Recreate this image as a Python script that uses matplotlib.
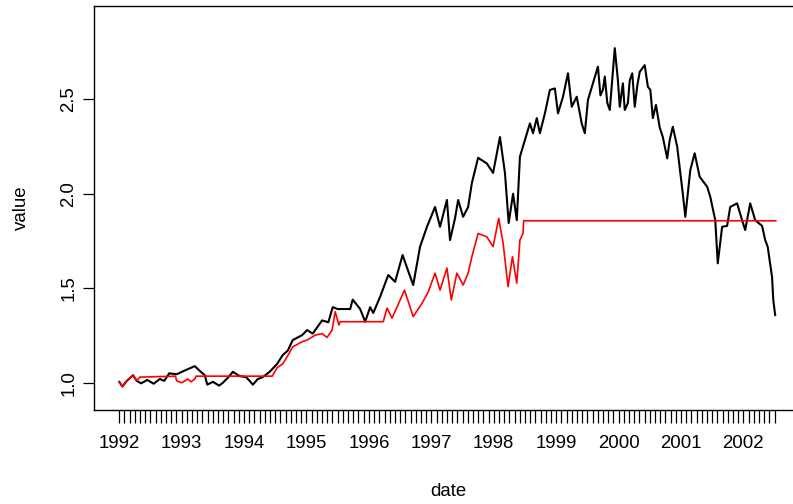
import numpy as np
import matplotlib
matplotlib.use('Agg')
import matplotlib.pyplot as plt

plt.rcParams['font.family'] = ['Liberation Sans', 'DejaVu Sans']

# values (date as fractional year)
black_t = [1992.00, 1992.05, 1992.12, 1992.22, 1992.28, 1992.35, 1992.45, 1992.55, 1992.65, 1992.72,
           1992.80, 1992.92, 1993.05, 1993.21, 1993.30, 1993.37, 1993.41, 1993.50, 1993.60, 1993.66,
           1993.75, 1993.82, 1993.93, 1994.03, 1994.09, 1994.14, 1994.22, 1994.30, 1994.41, 1994.53,
           1994.62, 1994.70, 1994.78, 1994.93, 1995.01, 1995.10, 1995.25, 1995.35, 1995.42, 1995.50,
           1995.62, 1995.70, 1995.74, 1995.86, 1995.94, 1996.02, 1996.07, 1996.18, 1996.31, 1996.42,
           1996.54, 1996.62, 1996.71, 1996.82, 1996.93, 1997.06, 1997.14, 1997.25, 1997.30, 1997.38,
           1997.43, 1997.51, 1997.59, 1997.65, 1997.75, 1997.89, 1997.99, 1998.10, 1998.18, 1998.24,
           1998.31, 1998.37, 1998.42, 1998.50, 1998.58, 1998.63, 1998.69, 1998.74, 1998.82, 1998.90,
           1998.98, 1999.03, 1999.11, 1999.19, 1999.25, 1999.33, 1999.41, 1999.46, 1999.51, 1999.59,
           1999.67, 1999.71, 1999.75, 1999.78, 1999.82, 1999.86, 1999.94, 1999.99, 2000.02, 2000.07,
           2000.10, 2000.15, 2000.18, 2000.22, 2000.26, 2000.30, 2000.34, 2000.42, 2000.47, 2000.51,
           2000.55, 2000.60, 2000.66, 2000.71, 2000.78, 2000.82, 2000.87, 2000.94, 2000.99, 2001.03,
           2001.07, 2001.15, 2001.22, 2001.30, 2001.42, 2001.47, 2001.55, 2001.59, 2001.66, 2001.74,
           2001.79, 2001.90, 2001.98, 2002.03, 2002.11, 2002.19, 2002.30, 2002.35, 2002.39, 2002.46,
           2002.48, 2002.51]
black_v = [1.005, 0.98, 1.01, 1.04, 1.01, 0.997, 1.015, 0.995, 1.02, 1.01,
           1.05, 1.045, 1.065, 1.088, 1.06, 1.04, 0.99, 1.005, 0.985, 1.00,
           1.03, 1.058, 1.035, 1.03, 1.01, 0.99, 1.02, 1.03, 1.058, 1.10,
           1.147, 1.17, 1.226, 1.252, 1.279, 1.26, 1.33, 1.32, 1.40, 1.39,
           1.39, 1.39, 1.44, 1.39, 1.323, 1.40, 1.369, 1.455, 1.57, 1.534,
           1.676, 1.60, 1.517, 1.72, 1.825, 1.93, 1.825, 1.967, 1.755, 1.87,
           1.967, 1.878, 1.93, 2.057, 2.19, 2.16, 2.11, 2.30, 2.11, 1.845,
           2.0, 1.86, 2.196, 2.284, 2.372, 2.32, 2.40, 2.32, 2.425, 2.549,
           2.557, 2.425, 2.513, 2.637, 2.46, 2.513, 2.372, 2.32, 2.496, 2.584,
           2.672, 2.52, 2.55, 2.62, 2.48, 2.443, 2.77, 2.60, 2.46, 2.584,
           2.443, 2.48, 2.60, 2.637, 2.46, 2.57, 2.645, 2.68, 2.566, 2.549,
           2.40, 2.47, 2.35, 2.30, 2.187, 2.284, 2.354, 2.249, 2.11, 2.0,
           1.878, 2.125, 2.214, 2.09, 2.037, 1.984, 1.86, 1.632, 1.825, 1.83,
           1.93, 1.949, 1.86, 1.808, 1.949, 1.86, 1.83, 1.755, 1.72, 1.56,
           1.438, 1.358]

red_t = [1992.00, 1992.05, 1992.12, 1992.22, 1992.28, 1992.33, 1992.90, 1992.92, 1993.00, 1993.10,
         1993.15, 1993.21, 1993.23, 1994.45, 1994.53, 1994.62, 1994.69, 1994.78, 1994.93, 1995.01,
         1995.14, 1995.25, 1995.33, 1995.41, 1995.46, 1995.52, 1995.54, 1996.23, 1996.29, 1996.37,
         1996.45, 1996.57, 1996.71, 1996.85, 1996.95, 1997.06, 1997.14, 1997.25, 1997.32, 1997.41,
         1997.51, 1997.59, 1997.65, 1997.75, 1997.89, 1997.99, 1998.08, 1998.15, 1998.23, 1998.30,
         1998.37, 1998.42, 1998.47, 1998.48, 2002.52]
red_v = [1.005, 0.98, 1.01, 1.04, 1.01, 1.03, 1.035, 1.01, 1.00, 1.02,
         1.005, 1.02, 1.035, 1.035, 1.08, 1.10, 1.138, 1.19, 1.217, 1.226,
         1.252, 1.26, 1.24, 1.279, 1.376, 1.305, 1.323, 1.323, 1.395, 1.342,
         1.40, 1.49, 1.35, 1.42, 1.48, 1.58, 1.49, 1.607, 1.438, 1.58,
         1.517, 1.58, 1.667, 1.79, 1.772, 1.72, 1.87, 1.74, 1.508, 1.667,
         1.527, 1.755, 1.79, 1.857, 1.857]

years = list(range(1992, 2003))
months = np.arange(0, 127) / 12 + 1992

fig = plt.figure(figsize=(7.93, 5.04), dpi=100)
ax = fig.add_axes([94 / 793, 94 / 504, (802 - 94) / 793, 404 / 504])

ax.plot(black_t, black_v, color='black', lw=1.5)
ax.plot(red_t, red_v, color='red', lw=1.2)

ax.set_xlim(1991.595, 2002.94)
ax.set_ylim(0.856, 2.993)

ax.set_xticks(years)
ax.set_xticklabels([str(y) for y in years])
ax.set_xticks(months, minor=True)
ax.tick_params(axis='x', which='both', direction='out', length=9, width=0.9, pad=9, labelsize=13.4)
ax.set_yticks([1.0, 1.5, 2.0, 2.5])
ax.set_yticklabels(['1.0', '1.5', '2.0', '2.5'], rotation=90, va='center')
ax.tick_params(axis='y', direction='out', length=8, width=0.9, pad=4, labelsize=13.4)

for s in ax.spines.values():
    s.set_linewidth(1.0)

ax.set_xlabel('date', fontsize=13.4, labelpad=22)
ax.set_ylabel('value', fontsize=13.4, labelpad=22)

fig.savefig('out.png', dpi=100)
